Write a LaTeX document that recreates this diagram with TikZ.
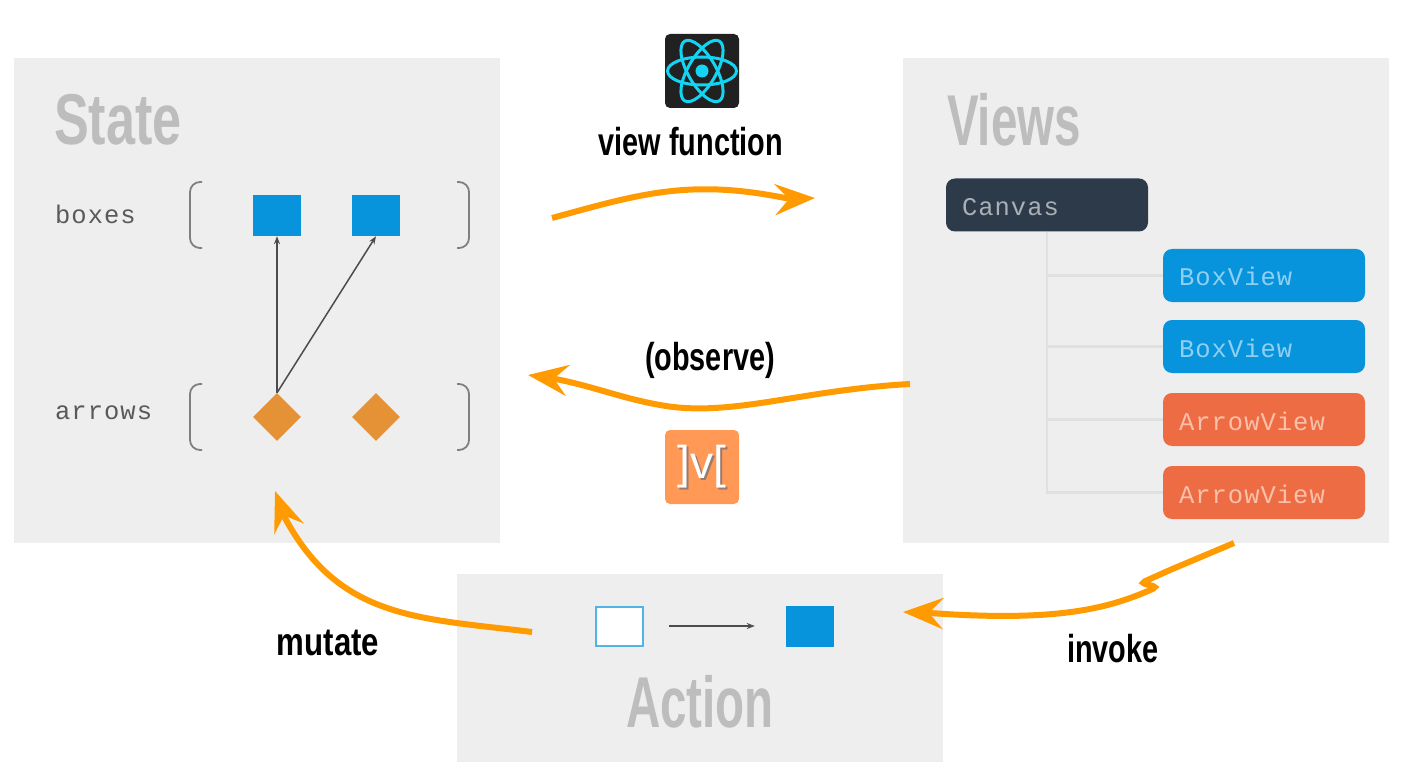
\documentclass[tikz,border=0pt]{standalone}
\usepackage{fontspec}
\usetikzlibrary{arrows.meta,shapes.geometric}
\setmainfont{Liberation Sans}
\newfontfamily\codefont[LetterSpace=4]{Liberation Mono}
\newcommand{\HEAD}[2][.66]{\scalebox{#1}[1]{\fontsize{72}{72}\selectfont\bfseries #2}}
\newcommand{\VERB}[2][.74]{\scalebox{#1}[1]{\fontsize{39}{39}\selectfont\bfseries #2}}

\definecolor{panelgray}{HTML}{EEEEEE}
\definecolor{headgray}{HTML}{BDBDBD}
\definecolor{boxblue}{HTML}{0894DC}
\definecolor{boxtext}{HTML}{8FD0F2}
\definecolor{arrowred}{HTML}{EE6C43}
\definecolor{arrowtext}{HTML}{FAC0AA}
\definecolor{canvasdark}{HTML}{2D3A4A}
\definecolor{canvastext}{HTML}{A8B0B6}
\definecolor{diamondorange}{HTML}{E59136}
\definecolor{flow}{HTML}{FF9B00}
\definecolor{reactcyan}{HTML}{14D4F4}
\definecolor{mobxorange}{HTML}{FF9955}
\definecolor{mobxshadow}{HTML}{9A7A70}

\tikzset{
  panel/.style={fill=panelgray, minimum width=486pt, inner sep=0pt},
  head/.style={text=headgray, inner sep=0pt},
  verb/.style={text=black, inner sep=0pt},
  code/.style={font=\codefont\fontsize{25.5}{25.5}\selectfont, text=black!65, inner sep=0pt, anchor=west},
  viewbox/.style={rounded corners=9pt, minimum height=53pt, text width=170pt, text height=21pt, text depth=0pt, inner xsep=16pt, inner ysep=0pt, align=left, font=\codefont\fontsize{25.5}{25.5}\selectfont},
  bluebox/.style={fill=boxblue, minimum width=48pt, minimum height=41pt, inner sep=0pt},
  item/.style={shape=diamond, fill=diamondorange, aspect=1, minimum size=48pt, inner sep=0pt},
  logo/.style={rounded corners=5pt, minimum size=74pt, inner sep=0pt},
  flowline/.style={draw=flow, line width=6pt, -{Stealth[length=40pt, width=31pt, inset=14pt]}},
  thin arrow/.style={draw=black!70, line width=1.5pt, -{Stealth[length=8pt, width=6pt]}},
  tree/.style={draw=black!12, line width=2.4pt},
  bracket/.style={draw=black!50, line width=1.8pt, rounded corners=10pt}
}

\begin{document}
\begin{tikzpicture}[x=1pt, y=-1pt]

  \useasboundingbox (0, 0) rectangle (1406, 778);

  % panels
  \node[panel, minimum height=485pt] (state) at (257, 300.5) {};
  \node[panel, minimum height=485pt] (views) at (1146, 300.5) {};
  \node[panel, minimum height=188pt] (action) at (700, 668) {};

  \node[head] (stateTitle) at (118, 120) {\HEAD[.725]{State}};
  \node[head] (viewsTitle) at (1014, 120) {\HEAD{Views}};
  \node[head] (actionTitle) at (700, 702) {\HEAD{Action}};

  % state
  \node[code] (boxesLabel) at (55, 214) {boxes};
  \node[code] (arrowsLabel) at (55, 413) {arrows};

  \draw[bracket] (202, 182) -- (190, 182) -- (190, 248) -- (202, 248);
  \draw[bracket] (457, 182) -- (469, 182) -- (469, 248) -- (457, 248);
  \draw[bracket] (202, 384) -- (190, 384) -- (190, 450) -- (202, 450);
  \draw[bracket] (457, 384) -- (469, 384) -- (469, 450) -- (457, 450);

  \node[bluebox] (boxA) at (277, 215.5) {};
  \node[bluebox] (boxB) at (376, 215.5) {};
  \node[item] (arrowA) at (277, 417) {};
  \node[item] (arrowB) at (376, 417) {};

  \draw[thin arrow] (arrowA.north) -- (boxA.south);
  \draw[thin arrow] (arrowA.north) -- (boxB.south);

  % views
  \node[viewbox, fill=canvasdark, text=canvastext] (canvas) at (1047, 205) {Canvas};
  \node[viewbox, fill=boxblue, text=boxtext] (boxViewA) at (1264, 275.5) {BoxView};
  \node[viewbox, fill=boxblue, text=boxtext] (boxViewB) at (1264, 346.5) {BoxView};
  \node[viewbox, fill=arrowred, text=arrowtext] (arrowViewA) at (1264, 419.5) {ArrowView};
  \node[viewbox, fill=arrowred, text=arrowtext] (arrowViewB) at (1264, 492.5) {ArrowView};

  \draw[tree] (canvas.south) |- (boxViewA.west);
  \draw[tree] (canvas.south) |- (boxViewB.west);
  \draw[tree] (canvas.south) |- (arrowViewA.west);
  \draw[tree] (canvas.south) |- (arrowViewB.west);

  % action
  \node[bluebox, fill=white, draw=boxblue!70, line width=2pt, minimum width=47pt, minimum height=39pt] (emptyBox) at (619.5, 626) {};
  \node[bluebox] (fullBox) at (810, 626) {};
  \draw[thin arrow] ([xshift=25pt]emptyBox.east) -- ([xshift=-31pt]fullBox.west);

  % logos
  \node[logo, fill=black!87] (reactLogo) at (702, 71) {};
  \draw[reactcyan, line width=3pt] (reactLogo.center) ellipse [x radius=34.5pt, y radius=14pt];
  \draw[reactcyan, line width=3pt, rotate around={60:(reactLogo.center)}] (reactLogo.center) ellipse [x radius=34.5pt, y radius=14pt];
  \draw[reactcyan, line width=3pt, rotate around={-60:(reactLogo.center)}] (reactLogo.center) ellipse [x radius=34.5pt, y radius=14pt];
  \fill[reactcyan] (reactLogo.center) circle [radius=6.5pt];

  \node[logo, fill=mobxorange] (mobxLogo) at (702, 467) {};
  \node[text=mobxshadow, inner sep=0pt, font=\fontsize{46}{46}\selectfont] (mobxShadow) at (703.5, 469) {]v[};
  \node[text=white, inner sep=0pt, font=\fontsize{46}{46}\selectfont] (mobxMark) at (702, 467) {]v[};

  % labels
  \node[verb] (viewLabel) at (691, 142) {\VERB{view function}};
  \node[verb] (observeLabel) at (710, 360) {\VERB{(observe)}};
  \node[verb] (invokeLabel) at (1113, 649) {\VERB{invoke}};
  \node[verb] (mutateLabel) at (328, 643) {\VERB[.8]{mutate}};

  % flows
  \coordinate (viewStart) at (552, 218);
  \coordinate (viewEnd) at (815, 198);
  \coordinate (observeStart) at (910, 384);
  \coordinate (observeEnd) at (528, 375);
  \coordinate (invokeStart) at (1234, 543);
  \coordinate (invokeKink) at (1141, 583);
  \coordinate (invokeEnd) at (903, 612);
  \coordinate (mutateStart) at (532, 632);
  \coordinate (mutateEnd) at (275, 491);

  \draw[flowline] (viewStart) .. controls (640, 194) and (690, 178) .. (790, 199) -- (viewEnd);
  \draw[flowline] (observeStart) .. controls (800, 390) and (730, 418) .. (660, 405)
    .. controls (620, 398) and (590, 385) .. (550, 378) -- (observeEnd);
  \draw[flowline, rounded corners=4pt] (invokeStart) -- (1170, 570) -- (invokeKink) -- (1157, 587)
    .. controls (1110, 608) and (1060, 622) .. (930, 613) -- (invokeEnd);
  \draw[flowline] (mutateStart) .. controls (420, 618) and (340, 620) .. (285, 518) -- (mutateEnd);

\end{tikzpicture}
\end{document}
